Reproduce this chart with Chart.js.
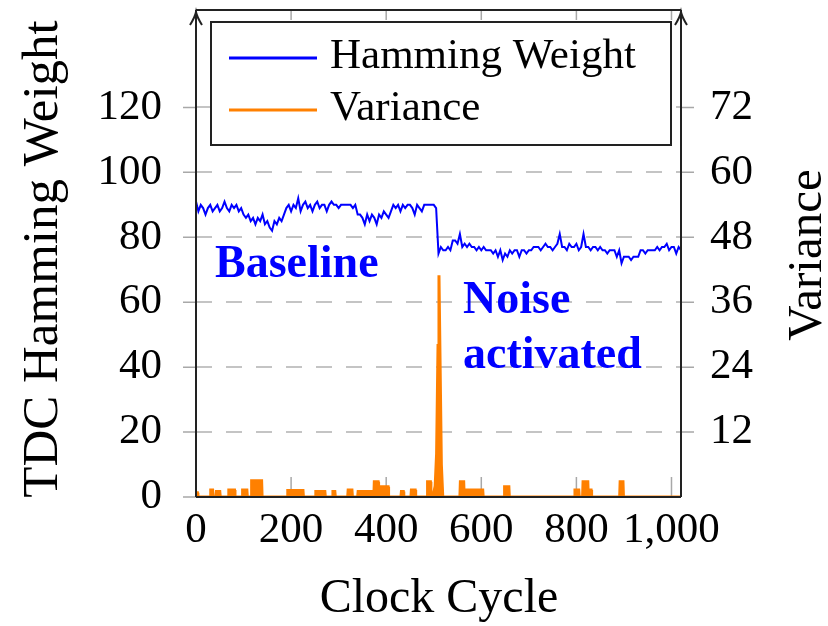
<!DOCTYPE html>
<html>
<head>
<meta charset="utf-8">
<script src="https://cdn.jsdelivr.net/npm/chart.js@4.4.0/dist/chart.umd.min.js"></script>
<style>
  html, body { margin: 0; background: #fff; }
</style>
</head>
<body>
<canvas id="chart" width="828" height="626"></canvas>
<script>
// ==================== DATA ====================
const cycleStep = 5;            // one sample every 5 clock cycles
const xTicks = [0, 200, 400, 600, 800, 1000];

// TDC Hamming weight, cycles 0..1020
const hammingWeight = [
    91, 88, 90, 89, 87, 89, 90, 88, 89, 90, 88, 89, 91, 89, 88, 90, 89, 90, 88,
    89, 87,
    86, 87, 85, 86, 84, 86, 85, 87, 84, 85, 83, 82, 85, 84, 86, 85, 87,
    89, 90, 88, 90, 89, 92, 88, 90, 91, 89, 90, 88, 90, 91, 89, 90, 90, 88, 90, 91,
    90, 90, 89, 90, 90, 90, 90, 90, 89, 90,
    87, 87, 86, 84, 87, 85, 87, 86, 84, 87, 86, 88, 87, 86, 88,
    90, 89, 90, 88, 90, 89, 90, 90, 89, 87, 90, 89, 88, 90, 90, 90, 90, 90, 89,
    75, 77, 76, 76, 77, 76,
    79, 79, 78, 81,
    77, 78, 77, 78, 77, 77, 76,
    77, 76, 77, 76, 76,
    76, 75, 76, 74, 76, 73, 75, 74, 76, 75, 76, 76, 74, 76, 76, 75, 76, 76, 77,
    77, 77, 76, 77, 78, 77, 77, 76, 77, 78, 81,
    77, 77, 76, 78, 77, 77, 78, 76, 77, 81,
    77, 77, 76, 77, 77, 76, 77,
    76, 76, 75, 76, 76, 76, 74, 76, 72,
    74, 74, 74, 73, 74, 74, 74,
    76, 76, 75, 76, 76, 76, 76,
    77, 76, 77, 77, 78, 76, 77, 77, 75, 77, 76
];

// small variance bumps: start cycle, end cycle, level
const bumpStart = [0, 30, 42, 68, 97, 116, 192, 251, 287, 319, 340, 374, 388, 431, 452, 486, 555, 564, 578, 648, 796, 813, 825, 891];
const bumpEnd   = [4, 36, 51, 82, 108, 139, 226, 272, 293, 329, 371, 384, 405, 437, 462, 494, 564, 574, 604, 659, 806, 825, 832, 899];
const bumpLevel = [0.8, 1.3, 1.0, 1.3, 1.3, 3.0, 1.2, 1.0, 1.0, 1.3, 1.0, 2.8, 1.9, 1.0, 1.3, 2.8, 2.8, 1.3, 1.3, 1.9, 1.3, 2.8, 1.3, 2.8];

// the variance spike when the noise source switches on
const spikeCycles = [498, 503, 506, 509, 511, 513, 516, 519];
const spikeValues = [0, 2, 8, 28, 41, 27, 6, 0];

const lastCycle = 1020;

// ==================== BUILD SERIES ====================
const hwPoints = hammingWeight.map((v, i) => ({ x: i * cycleStep, y: v }));

let varPoints = [];
bumpStart.forEach((s, i) => {
    const e = bumpEnd[i], h = bumpLevel[i];
    varPoints.push({ x: s, y: 0 }, { x: s + 1, y: h }, { x: e - 1, y: h }, { x: e, y: 0 });
});
spikeCycles.forEach((c, i) => varPoints.push({ x: c, y: spikeValues[i] }));
varPoints.push({ x: lastCycle, y: 0 });
varPoints.sort((a, b) => a.x - b.x);

const BLUE = "#0000ff";
const ORANGE = "#ff8000";
const SERIF = "'Liberation Serif', 'Times New Roman', serif";

// ==================== DECORATION ====================
function arrowUp(ctx, x, y) {
    ctx.beginPath();
    ctx.moveTo(x - 6, y + 13);
    ctx.quadraticCurveTo(x - 1, y + 5, x, y);
    ctx.quadraticCurveTo(x + 1, y + 5, x + 6, y + 13);
    ctx.stroke();
}

// chart.js reserves room for half a label at the ends of each axis; the
// reference plot runs right up to the frame, so drop that padding
function noEndPadding(axis) {
    axis.paddingTop = 0;
    axis.paddingBottom = 0;
    axis.paddingLeft = 0;
    axis.paddingRight = 0;
}

const pgfDecor = {
    id: "pgfDecor",
    beforeDatasetsDraw(chart) {
        const { ctx, chartArea: a, scales } = chart;
        ctx.save();
        ctx.strokeStyle = "#a8a8a8";
        ctx.lineWidth = 1.5;
        ctx.beginPath();
        for (const v of xTicks.slice(1)) {
            const px = scales.x.getPixelForValue(v);
            ctx.moveTo(px, a.bottom); ctx.lineTo(px, a.bottom - 20);
            ctx.moveTo(px, a.top); ctx.lineTo(px, a.top + 10);
        }
        for (const t of scales.y.ticks) {
            const py = scales.y.getPixelForValue(t.value);
            ctx.moveTo(a.left - 13, py); ctx.lineTo(a.left, py);
        }
        for (const t of scales.y2.ticks) {
            const py = scales.y2.getPixelForValue(t.value);
            ctx.moveTo(a.right, py); ctx.lineTo(a.right + 13, py);
        }
        ctx.stroke();
        ctx.restore();
    },
    afterDraw(chart) {
        const { ctx, chartArea: a } = chart;
        ctx.save();

        // frame + axis arrows
        ctx.strokeStyle = "#222";
        ctx.lineWidth = 2;
        ctx.beginPath();
        ctx.moveTo(a.left, a.bottom); ctx.lineTo(a.right, a.bottom);
        ctx.moveTo(a.left, a.top); ctx.lineTo(a.right, a.top);
        ctx.moveTo(a.left, a.bottom); ctx.lineTo(a.left, a.top);
        ctx.moveTo(a.right, a.bottom); ctx.lineTo(a.right, a.top);
        ctx.stroke();
        arrowUp(ctx, a.left, a.top + 2);
        arrowUp(ctx, a.right, a.top + 2);

        // legend
        ctx.fillStyle = "#fff";
        ctx.fillRect(211, 22, 460, 123);
        ctx.strokeStyle = "#222";
        ctx.lineWidth = 2;
        ctx.strokeRect(211, 22, 460, 123);
        ctx.lineWidth = 3;
        ctx.strokeStyle = BLUE;
        ctx.beginPath(); ctx.moveTo(229, 58); ctx.lineTo(317, 58); ctx.stroke();
        ctx.strokeStyle = ORANGE;
        ctx.beginPath(); ctx.moveTo(229, 110); ctx.lineTo(317, 110); ctx.stroke();
        ctx.fillStyle = "#000";
        ctx.font = `43px ${SERIF}`;
        ctx.textAlign = "left";
        ctx.textBaseline = "alphabetic";
        ctx.fillText("Hamming Weight", 330, 68);
        ctx.fillText("Variance", 330, 120);

        // annotations
        ctx.fillStyle = BLUE;
        ctx.font = `bold 46px ${SERIF}`;
        ctx.fillText("Baseline", 215, 277);
        ctx.fillText("Noise", 463, 313);
        ctx.fillText("activated", 463, 368);

        // axis titles
        ctx.fillStyle = "#000";
        ctx.textAlign = "center";
        ctx.font = `48px ${SERIF}`;
        ctx.fillText("Clock Cycle", 439, 612);

        ctx.textBaseline = "middle";
        ctx.font = `51px ${SERIF}`;
        ctx.save();
        ctx.translate(44, 259);
        ctx.rotate(-Math.PI / 2);
        ctx.fillText("TDC Hamming Weight", 0, 0);
        ctx.restore();

        ctx.font = `49px ${SERIF}`;
        ctx.save();
        ctx.translate(808, 255);
        ctx.rotate(-Math.PI / 2);
        ctx.fillText("Variance", 0, 0);
        ctx.restore();

        ctx.restore();
    }
};

// ==================== CHART ====================
const tickFont = { family: SERIF, size: 43 };

new Chart(document.getElementById("chart"), {
    type: "line",
    data: {
        datasets: [
            {
                label: "Hamming Weight",
                data: hwPoints,
                yAxisID: "y",
                borderColor: BLUE,
                borderWidth: 2,
                pointRadius: 0,
                tension: 0,
                fill: false,
            },
            {
                label: "Variance",
                data: varPoints,
                yAxisID: "y2",
                borderColor: ORANGE,
                backgroundColor: ORANGE,
                borderWidth: 3,
                pointRadius: 0,
                tension: 0,
                fill: "origin",
            },
        ],
    },
    options: {
        responsive: false,
        animation: false,
        devicePixelRatio: 1,
        layout: { padding: { top: 10, left: 0, right: 0, bottom: 0 } },
        plugins: {
            legend: { display: false },
            tooltip: { enabled: false },
        },
        scales: {
            x: {
                type: "linear",
                min: 0,
                max: lastCycle,
                afterBuildTicks: (axis) => { axis.ticks = xTicks.map(v => ({ value: v })); },
                afterFit: (axis) => { axis.height = 129; noEndPadding(axis); },
                grid: { display: false },
                border: { display: false },
                ticks: {
                    font: tickFont,
                    color: "#000",
                    padding: 0,
                    maxRotation: 0,
                    autoSkip: false,
                    callback: (v) => v.toLocaleString("en-US"),
                },
            },
            y: {
                position: "left",
                min: 0,
                max: 150,
                afterBuildTicks: (axis) => { axis.ticks = axis.ticks.filter(t => t.value <= 120); },
                afterFit: (axis) => { axis.width = 196; noEndPadding(axis); },
                grid: { color: "#c4c4c4", lineWidth: 2, drawTicks: false },
                border: { display: false, dash: [16, 14] },
                ticks: { stepSize: 20, font: tickFont, color: "#000", padding: 34 },
            },
            y2: {
                position: "right",
                min: 0,
                max: 90,
                afterBuildTicks: (axis) => { axis.ticks = axis.ticks.filter(t => t.value > 0 && t.value <= 72); },
                afterFit: (axis) => { axis.width = 147; noEndPadding(axis); },
                grid: { display: false, drawTicks: false },
                border: { display: false },
                ticks: { stepSize: 12, font: tickFont, color: "#000", padding: 29 },
            },
        },
    },
    plugins: [pgfDecor],
});
</script>
</body>
</html>
